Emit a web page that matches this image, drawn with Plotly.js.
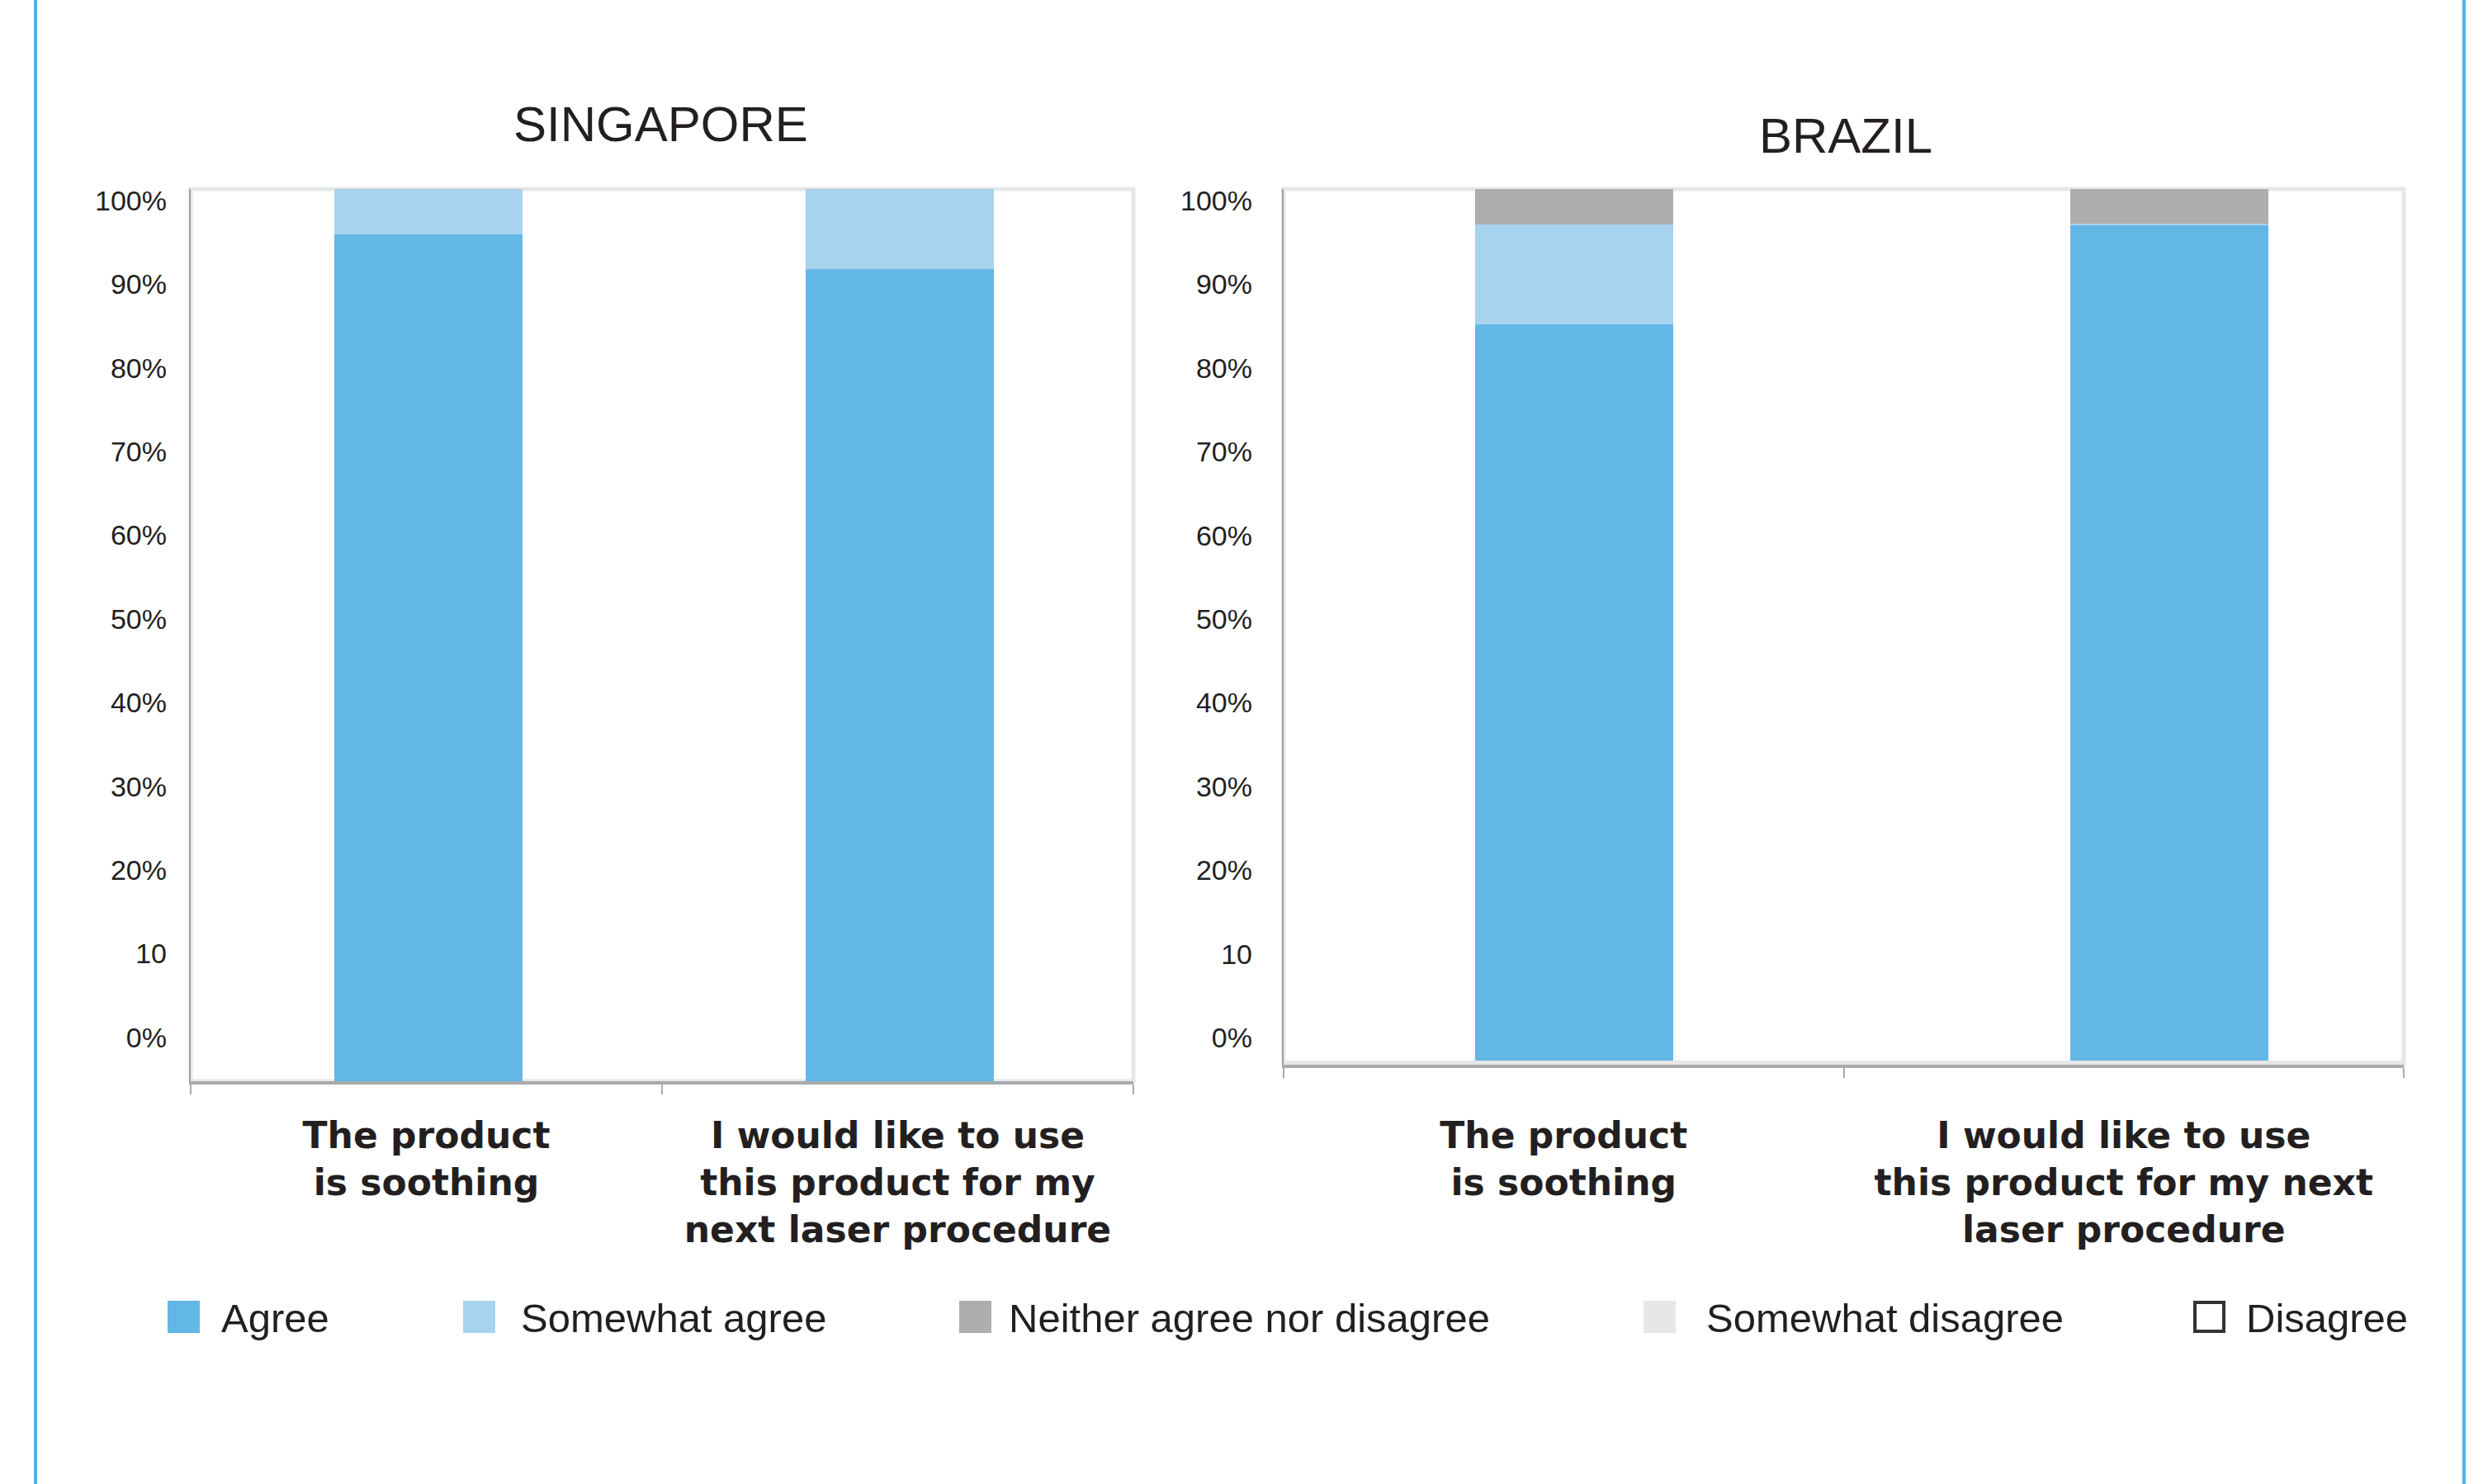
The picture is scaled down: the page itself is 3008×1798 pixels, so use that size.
<!DOCTYPE html>
<html><head><meta charset="utf-8">
<script src="https://cdn.plot.ly/plotly-3.0.1.min.js"></script>
<style>html,body{margin:0;padding:0;background:#fff;} #chart{width:3008px;height:1798px;}</style>
</head><body><div id="chart"></div>
<script>
// ---------- data ----------
const panelTitles = ['SINGAPORE', 'BRAZIL'];
const categoriesSG = ['The product<br>is soothing', 'I would like to use<br>this product for my<br>next laser procedure'];
const categoriesBR = ['The product<br>is soothing', 'I would like to use<br>this product for my next<br>laser procedure'];
const seriesNames = ['Agree', 'Somewhat agree', 'Neither agree nor disagree', 'Somewhat disagree', 'Disagree'];
// Singapore (% of respondents)
const sgAgree = [94.9, 91.0];
const sgSomewhatAgree = [5.1, 9.0];
const sgNeither = [0, 0];
const sgSomewhatDisagree = [0, 0];
const sgDisagree = [0, 0];
// Brazil (% of respondents)
const brAgree = [84.5, 95.8];
const brSomewhatAgree = [11.4, 0.2];
const brNeither = [4.1, 4.0];
const brSomewhatDisagree = [0, 0];
const brDisagree = [0, 0];
// y tick labels
const yTickVals = [0, 10, 20, 30, 40, 50, 60, 70, 80, 90, 100];
const yTickText = ['0%', '10', '20%', '30%', '40%', '50%', '60%', '70%', '80%', '90%', '100%'];

// ---------- styling ----------
const W = 3008, H = 1798;
const px = x => x / W;
const py = y => (H - y) / H;
const FONT = 'Liberation Sans, Arial, sans-serif';
const BOLDFONT = 'DejaVu Sans, Liberation Sans, sans-serif';
const TXT = '#231f20';
const colors = ['#63b7e6', '#a8d3ee', '#aeaeae', '#e6e7e8', '#ffffff'];
const sgSeries = [sgAgree, sgSomewhatAgree, sgNeither, sgSomewhatDisagree, sgDisagree];
const brSeries = [brAgree, brSomewhatAgree, brNeither, brSomewhatDisagree, brDisagree];

const traces = [];
seriesNames.forEach((name, i) => {
  traces.push({
    type: 'bar', name: name, x: categoriesSG, y: sgSeries[i],
    xaxis: 'x', yaxis: 'y', width: 0.40, offset: -0.196,
    marker: {color: colors[i], line: {width: 0}},
    showlegend: false, hoverinfo: 'skip'
  });
});
seriesNames.forEach((name, i) => {
  traces.push({
    type: 'bar', name: name, x: categoriesBR, y: brSeries[i],
    xaxis: 'x2', yaxis: 'y2', width: 0.354, offset: [-0.158, -0.096],
    marker: {color: colors[i], line: {width: 0}},
    showlegend: false, hoverinfo: 'skip'
  });
});
// empty traces that carry the label axes
traces.push({type: 'scatter', x: [], y: [], xaxis: 'x', yaxis: 'y3', showlegend: false, hoverinfo: 'skip'});
traces.push({type: 'scatter', x: [], y: [], xaxis: 'x2', yaxis: 'y4', showlegend: false, hoverinfo: 'skip'});

const xCommon = {
  type: 'category', range: [-0.5, 1.5], tickson: 'boundaries', ticks: 'outside',
  ticklen: 12, tickwidth: 2, tickcolor: '#a7a9ac', showline: true, linecolor: '#a7a9ac',
  linewidth: 4, showgrid: false, zeroline: false, fixedrange: true,
  tickfont: {family: BOLDFONT, size: 44, color: TXT, weight: 'bold'}
};
const yBarCommon = {
  showticklabels: false, ticks: '', showline: true, linecolor: '#9d9fa2', linewidth: 2,
  showgrid: false, zeroline: false, fixedrange: true
};
const yLabelCommon = {
  tickmode: 'array', tickvals: yTickVals, ticktext: yTickText, ticks: '',
  showline: false, showgrid: false, zeroline: false, fixedrange: true, side: 'left',
  tickfont: {family: FONT, size: 34, color: TXT}
};

const shapes = [
  {type: 'line', xref: 'paper', yref: 'paper', x0: px(43), x1: px(43), y0: 0, y1: 1, line: {color: '#4fb3e4', width: 4}},
  {type: 'line', xref: 'paper', yref: 'paper', x0: px(2985), x1: px(2985), y0: 0, y1: 1, line: {color: '#4fb3e4', width: 4}},
  {type: 'rect', xref: 'x domain', yref: 'y domain', x0: 0, x1: 1, y0: 0, y1: 1, line: {color: '#e6e7e8', width: 5}, layer: 'below'},
  {type: 'rect', xref: 'x2 domain', yref: 'y2 domain', x0: 0, x1: 1, y0: 0, y1: 1, line: {color: '#e6e7e8', width: 5}, layer: 'below'},
  {type: 'rect', xref: 'x2 domain', yref: 'y2', x0: 0, x1: 1, y0: -0.5, y1: 0, fillcolor: '#e6e7e8', line: {width: 0}, layer: 'below'}
];

const annotations = [
  {text: panelTitles[0], xref: 'paper', yref: 'paper', x: px(800), y: py(150), xanchor: 'center', yanchor: 'middle', showarrow: false, font: {family: FONT, size: 60, color: TXT}},
  {text: panelTitles[1], xref: 'paper', yref: 'paper', x: px(2236), y: py(164), xanchor: 'center', yanchor: 'middle', showarrow: false, font: {family: FONT, size: 60, color: TXT}}
];

// manual legend
const legendSquareX = [203, 561, 1162, 1991, 2657];
const legendTextX = [266, 629, 1220, 2065, 2719];
seriesNames.forEach((name, i) => {
  const isOutline = colors[i] === '#ffffff';
  shapes.push({
    type: 'rect', xref: 'paper', yref: 'paper',
    x0: px(legendSquareX[i] + (isOutline ? 2 : 0)), x1: px(legendSquareX[i] + 39 - (isOutline ? 2 : 0)),
    y0: py(1615 - (isOutline ? 2 : 0)), y1: py(1576 + (isOutline ? 2 : 0)),
    fillcolor: colors[i], line: {width: isOutline ? 4 : 0, color: '#333333'}
  });
  annotations.push({
    text: name, xref: 'paper', yref: 'paper', x: px(legendTextX[i]), y: py(1597),
    xanchor: 'left', yanchor: 'middle', showarrow: false,
    font: {family: FONT, size: 49, color: TXT}
  });
});

const layout = {
  width: W, height: H, autosize: false,
  margin: {l: 0, r: 0, t: 0, b: 0, pad: 0},
  paper_bgcolor: '#ffffff', plot_bgcolor: 'rgba(0,0,0,0)',
  barmode: 'stack', showlegend: false,
  xaxis: Object.assign({}, xCommon, {domain: [px(231), px(1373)], anchor: 'y', ticklabelstandoff: 24}),
  yaxis: Object.assign({}, yBarCommon, {domain: [py(1310), py(229)], anchor: 'x', range: [0, 100]}),
  yaxis3: Object.assign({}, yLabelCommon, {overlaying: 'y', anchor: 'x', range: [-5.23, 101.38], ticklabelstandoff: 28}),
  xaxis2: Object.assign({}, xCommon, {domain: [px(1555), px(2912)], anchor: 'y2', ticklabelstandoff: 44}),
  yaxis2: Object.assign({}, yBarCommon, {domain: [py(1290), py(229)], anchor: 'x2', range: [-0.5, 100]}),
  yaxis4: Object.assign({}, yLabelCommon, {overlaying: 'y2', anchor: 'x2', range: [-3.25, 101.38], ticklabelstandoff: 37}),
  shapes: shapes,
  annotations: annotations
};

Plotly.newPlot('chart', traces, layout, {staticPlot: true, displayModeBar: false});
</script>
</body></html>
